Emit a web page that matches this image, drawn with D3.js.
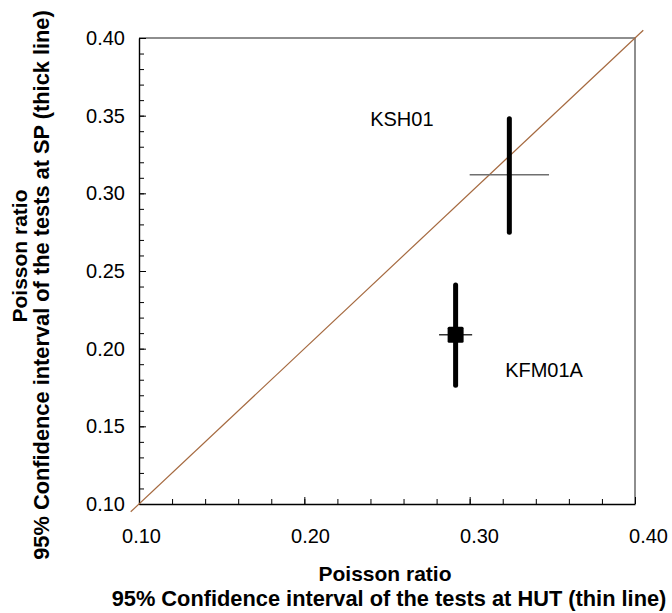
<!DOCTYPE html>
<html>
<head>
<meta charset="utf-8">
<script src="https://cdn.jsdelivr.net/npm/d3@7"></script>
<style>
  body { margin: 0; background: #fff; }
  svg text { font-family: Arial, "Liberation Sans", sans-serif; fill: #000; }
</style>
</head>
<body>
<div id="chart-area"></div>
<script>
// data
var sites = ["KSH01", "KFM01A"];
var hutMean = [0.324, 0.2915];
var hutLow = [0.300, 0.2815];
var hutHigh = [0.348, 0.3015];
var spMean = [0.312, 0.209];
var spLow = [0.275, 0.1765];
var spHigh = [0.348, 0.241];
var hasMarker = [false, true];

var xTickLabels = [0.1, 0.2, 0.3, 0.4];
var yTickLabels = [0.1, 0.15, 0.2, 0.25, 0.3, 0.35, 0.4];

// where the site names sit (data units)
var siteLabelPos = [[0.259, 0.348], [0.345, 0.186]];

var width = 672;
var height = 613;

var svg = d3
  .select("#chart-area")
  .append("svg")
  .attr("width", width)
  .attr("height", height);

// scales
var x = d3.scaleLinear().domain([0.1, 0.4]).range([139, 635]);
var y = d3.scaleLinear().domain([0.1, 0.4]).range([504, 38]);
// x labels in the original are spread a bit wider than the ticks
var xLab = d3.scaleLinear().domain([0.1, 0.4]).range([141, 648]);

var data = sites.map((s, i) => ({
  site: s,
  hut: hutMean[i],
  hutLo: hutLow[i],
  hutHi: hutHigh[i],
  sp: spMean[i],
  spLo: spLow[i],
  spHi: spHigh[i],
  marker: hasMarker[i],
  lx: siteLabelPos[i][0],
  ly: siteLabelPos[i][1]
}));

// minor ticks, pointing into the plot
var xMinor = d3.range(0, 16).map((i) => 0.1 + i * 0.02);
var yMinor = d3.range(0, 31).map((i) => 0.1 + i * 0.01);

svg
  .append("g")
  .attr("transform", `translate(0, ${y(0.1)})`)
  .call(d3.axisBottom(x).tickValues(xMinor).tickSizeInner(-5).tickSizeOuter(0).tickFormat(""))
  .call((g) => g.select(".domain").remove())
  .call((g) => g.selectAll("line").attr("stroke", "#000"));

svg
  .append("g")
  .attr("transform", `translate(${x(0.1)}, 0)`)
  .call(d3.axisLeft(y).tickValues(yMinor).tickSizeInner(-5).tickSizeOuter(0).tickFormat(""))
  .call((g) => g.select(".domain").remove())
  .call((g) => g.selectAll("line").attr("stroke", "#000"));

// gray frame on top and right
svg
  .append("path")
  .attr("d", `M${x(0.1)},${y(0.4)}H${x(0.4)}V${y(0.1)}`)
  .attr("fill", "none")
  .attr("stroke", "#8e8e8e")
  .attr("stroke-width", 2);

// main axes with labels
var xAxis = d3
  .axisBottom(x)
  .tickValues(xTickLabels)
  .tickSizeInner(-7)
  .tickSizeOuter(0)
  .tickPadding(25)
  .tickFormat(d3.format(".2f"));

var yAxis = d3
  .axisLeft(y)
  .tickValues(yTickLabels)
  .tickSizeInner(-7)
  .tickSizeOuter(0)
  .tickPadding(14)
  .tickFormat(d3.format(".2f"));

svg
  .append("g")
  .attr("class", "x-axis")
  .attr("transform", `translate(0, ${y(0.1)})`)
  .call(xAxis)
  .call((g) => g.select(".domain").attr("stroke", "#000").attr("stroke-width", 1.4))
  .call((g) => g.selectAll("line").attr("stroke", "#000"))
  .call((g) =>
    g
      .selectAll("text")
      .attr("font-size", 20)
      .attr("font-family", null)
      .attr("dx", (d) => xLab(d) - x(d))
  );

svg
  .append("g")
  .attr("class", "y-axis")
  .attr("transform", `translate(${x(0.1)}, 0)`)
  .call(yAxis)
  .call((g) => g.select(".domain").attr("stroke", "#000").attr("stroke-width", 1.4))
  .call((g) => g.selectAll("line").attr("stroke", "#000"))
  .call((g) => g.selectAll("text").attr("font-size", 20).attr("font-family", null));

// 1:1 line
svg
  .append("line")
  .attr("x1", x(0.095))
  .attr("y1", y(0.095))
  .attr("x2", x(0.405))
  .attr("y2", y(0.405))
  .attr("stroke", "#a5693f")
  .attr("stroke-width", 1.2);

// thin lines = HUT interval
svg
  .selectAll(".hut")
  .data(data)
  .join("line")
  .attr("class", "hut")
  .attr("x1", (d) => x(d.hutLo))
  .attr("x2", (d) => x(d.hutHi))
  .attr("y1", (d) => y(d.sp))
  .attr("y2", (d) => y(d.sp))
  .attr("stroke", (d) => (d.marker ? "#333" : "#6f6f6f"))
  .attr("stroke-width", 1.5);

// thick lines = SP interval
svg
  .selectAll(".sp")
  .data(data)
  .join("line")
  .attr("class", "sp")
  .attr("x1", (d) => x(d.hut))
  .attr("x2", (d) => x(d.hut))
  .attr("y1", (d) => y(d.spLo))
  .attr("y2", (d) => y(d.spHi))
  .attr("stroke", "#000")
  .attr("stroke-width", 5)
  .attr("stroke-linecap", "round");

// square marker
svg
  .selectAll(".marker")
  .data(data.filter((d) => d.marker))
  .join("rect")
  .attr("class", "marker")
  .attr("x", (d) => x(d.hut) - 8)
  .attr("y", (d) => y(d.sp) - 8)
  .attr("width", 16)
  .attr("height", 16)
  .attr("rx", 1.5)
  .attr("fill", "#000");

// site names
svg
  .selectAll(".site")
  .data(data)
  .join("text")
  .attr("class", "site")
  .attr("x", (d) => x(d.lx))
  .attr("y", (d) => y(d.ly))
  .attr("dy", "0.35em")
  .attr("text-anchor", "middle")
  .attr("font-size", 20)
  .text((d) => d.site);

// axis titles
var xTitle = svg
  .append("text")
  .attr("text-anchor", "middle")
  .attr("font-weight", "bold");
xTitle.append("tspan").attr("x", 385).attr("y", 581).attr("font-size", 21).text("Poisson ratio");
xTitle
  .append("tspan")
  .attr("x", 389)
  .attr("y", 606)
  .attr("font-size", 21.8)
  .text("95% Confidence interval of the tests at HUT (thin line)");

var yTitle = svg
  .append("text")
  .attr("transform", "rotate(-90)")
  .attr("text-anchor", "middle")
  .attr("font-weight", "bold");
yTitle.append("tspan").attr("x", -256).attr("y", 27).attr("font-size", 21).text("Poisson ratio");
yTitle
  .append("tspan")
  .attr("x", -285)
  .attr("y", 49)
  .attr("font-size", 21.8)
  .text("95% Confidence interval of the tests at SP (thick line)");
</script>
</body>
</html>
